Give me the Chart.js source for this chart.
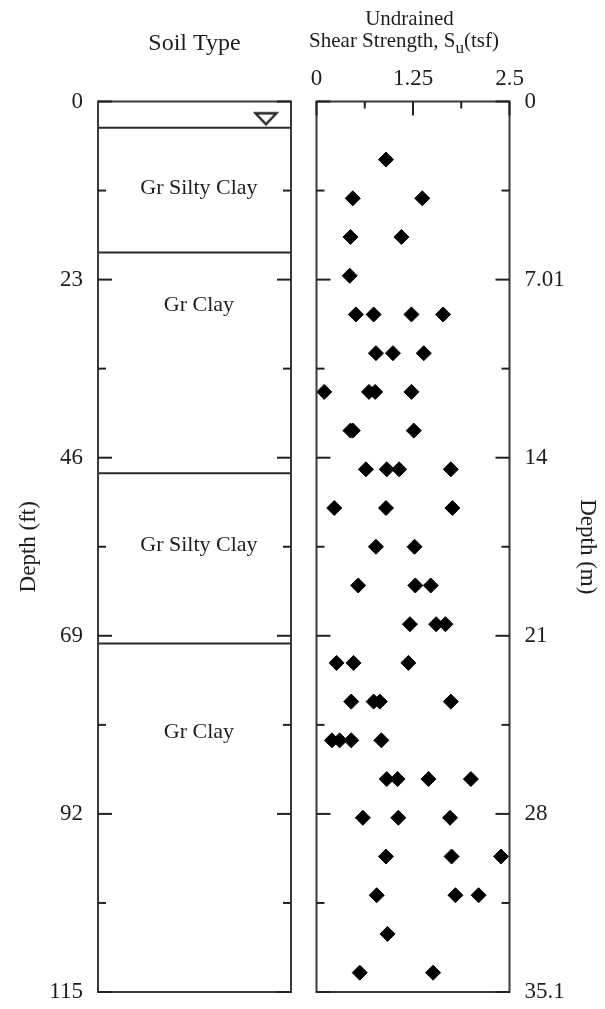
<!DOCTYPE html>
<html><head><meta charset="utf-8">
<script src="https://cdn.jsdelivr.net/npm/chart.js@4.4.1/dist/chart.umd.min.js"></script>
<style>
html,body{margin:0;padding:0;background:#fff;}
#wrap{position:relative;width:605px;height:1009px;background:#fff;}
canvas{position:absolute;left:0;top:0;}
</style></head><body>
<div id="wrap"><canvas id="soil" width="605" height="1009"></canvas><canvas id="su" width="605" height="1009"></canvas></div>
<script>
// ---------- data ----------
const depthFt = [7.5, 12.5,12.5, 17.5,17.5, 22.5, 27.5,27.5,27.5,27.5, 32.5,32.5,32.5, 37.5,37.5,37.5,37.5,
  42.5,42.5,42.5, 47.5,47.5,47.5,47.5, 52.5,52.5,52.5, 57.5,57.5, 62.5,62.5,62.5, 67.5,67.5,67.5,
  72.5,72.5,72.5, 77.5,77.5,77.5,77.5, 82.5,82.5,82.5,82.5, 87.5,87.5,87.5,87.5, 92.5,92.5,92.5,
  97.5,97.5,97.5, 102.5,102.5,102.5, 107.5, 112.5,112.5];
const suTsf = [0.90, 0.47,1.37, 0.44,1.10, 0.43, 0.51,0.74,1.23,1.64, 0.77,0.99,1.39, 0.10,0.68,0.76,1.23,
  0.44,0.47,1.26, 0.64,0.91,1.07,1.74, 0.23,0.90,1.76, 0.77,1.27, 0.54,1.28,1.48, 1.21,1.55,1.67,
  0.26,0.48,1.19, 0.45,0.74,0.82,1.74, 0.20,0.30,0.45,0.84, 0.91,1.05,1.45,2.00, 0.60,1.06,1.73,
  0.90,1.75,2.39, 0.78,1.80,2.10, 0.92, 0.56,1.51];
const ftTicks = [0, 23, 46, 69, 92, 115];
const ftTickLabels = ['0', '23', '46', '69', '92', '115'];
const mTickLabels = ['0', '7.01', '14', '21', '28', '35.1'];
const suTicks = [0, 1.25, 2.5];
const suTickLabels = ['0', '1.25', '2.5'];
const suMinorTicks = [0.625, 1.875];
const layerBoundsFt = [3.4, 19.5, 48, 70];
const layerNames = ['Gr Silty Clay', 'Gr Clay', 'Gr Silty Clay', 'Gr Clay'];
const layerLabelDepthFt = [11.2, 26.3, 57.3, 81.4];
const waterTableFt = 3.0;

// ---------- styles ----------
const FONT = 'Liberation Serif, Times New Roman, serif';
const TXT = '#1e1e1e';
const FRAME = '#3a3a3a';
const TOP = 101.5, BOTTOM_PAD = 17;

const ftMinor = ftTicks.slice(1).map((v, i) => (v + ftTicks[i]) / 2);

// water table marker (hollow downward triangle)
const tri = document.createElement('canvas');
tri.width = 26; tri.height = 28;
(function(){
  const c = tri.getContext('2d');
  c.strokeStyle = '#222'; c.lineWidth = 2.3; c.lineJoin = 'miter';
  c.beginPath(); c.moveTo(2.5, 2.5); c.lineTo(23.5, 2.5); c.lineTo(13, 13.5); c.closePath(); c.stroke();
})();

function noPad(s) { s.paddingTop = 0; s.paddingBottom = 0; s.paddingLeft = 0; s.paddingRight = 0; }

function frameAndTicks(chart, opts) {
  const ctx = chart.ctx, a = chart.chartArea;
  const ys = chart.scales.y;
  ctx.save();
  ctx.strokeStyle = FRAME; ctx.lineWidth = 2;
  ctx.strokeRect(a.left, a.top, a.right - a.left, a.bottom - a.top);
  ctx.strokeStyle = '#222'; ctx.lineWidth = 2;
  const tk = (vals, len) => vals.forEach(v => {
    const p = ys.getPixelForValue(v);
    ctx.beginPath(); ctx.moveTo(a.left, p); ctx.lineTo(a.left + len, p); ctx.stroke();
    ctx.beginPath(); ctx.moveTo(a.right, p); ctx.lineTo(a.right - len, p); ctx.stroke();
  });
  tk(ftTicks, 14); tk(ftMinor, 8);
  if (opts && opts.top) {
    const xs = chart.scales.x;
    const tx = (vals, len) => vals.forEach(v => {
      const p = xs.getPixelForValue(v);
      ctx.beginPath(); ctx.moveTo(p, a.top); ctx.lineTo(p, a.top + len); ctx.stroke();
    });
    tx(suTicks, 14); tx(suMinorTicks, 7);
  }
  ctx.restore();
}

const soilPlugin = {
  id: 'soilDeco',
  afterDatasetsDraw(chart) {
    frameAndTicks(chart);
    const ctx = chart.ctx, a = chart.chartArea;
    const xs = chart.scales.x, ys = chart.scales.y;
    ctx.save();
    ctx.fillStyle = TXT;
    ctx.textAlign = 'center'; ctx.textBaseline = 'middle';
    ctx.font = '22px ' + FONT;
    layerNames.forEach((n, i) => ctx.fillText(n, xs.getPixelForValue(0.523), ys.getPixelForValue(layerLabelDepthFt[i])));
    ctx.textBaseline = 'alphabetic';
    ctx.font = '24px ' + FONT;
    ctx.fillText('Soil Type', (a.left + a.right) / 2, 50);
    ctx.restore();
  }
};

const suPlugin = {
  id: 'suDeco',
  afterDatasetsDraw(chart) {
    frameAndTicks(chart, {top: true});
    const ctx = chart.ctx, a = chart.chartArea;
    ctx.save();
    ctx.fillStyle = TXT;
    ctx.textBaseline = 'alphabetic';
    ctx.font = '21px ' + FONT;
    ctx.textAlign = 'center';
    const cx = (a.left + a.right) / 2;
    ctx.fillText('Undrained', cx - 3.5, 25);
    ctx.textAlign = 'left';
    const p1 = 'Shear Strength, S', p3 = '(tsf)';
    ctx.font = '21px ' + FONT;
    const w1 = ctx.measureText(p1).width;
    ctx.font = '17px ' + FONT;
    const w2 = ctx.measureText('u').width;
    ctx.font = '21px ' + FONT;
    const w3 = ctx.measureText(p3).width;
    let x = cx - 9 - (w1 + w2 + w3) / 2;
    ctx.fillText(p1, x, 47); x += w1;
    ctx.font = '17px ' + FONT; ctx.fillText('u', x, 53); x += w2;
    ctx.font = '21px ' + FONT; ctx.fillText(p3, x, 47);
    ctx.restore();
  }
};

const common = {
  responsive: false, animation: false, devicePixelRatio: 1,
  plugins: {legend: {display: false}, tooltip: {enabled: false}}
};

new Chart(document.getElementById('soil'), {
  type: 'scatter',
  data: {
    datasets: [
      ...layerBoundsFt.map(d => ({
        type: 'line', data: [{x: 0, y: d}, {x: 1, y: d}],
        borderColor: '#2a2a2a', borderWidth: 2, pointRadius: 0, showLine: true
      })),
      {data: [{x: 0.87, y: waterTableFt}], pointStyle: tri, pointRadius: 13}
    ]
  },
  options: Object.assign({}, common, {
    layout: {padding: {left: 0, top: TOP, right: 314, bottom: BOTTOM_PAD}},
    scales: {
      x: {type: 'linear', min: 0, max: 1, display: false},
      y: {
        type: 'linear', min: 0, max: 115, reverse: true, position: 'left',
        afterFit(s) { s.width = 98; noPad(s); },
        afterBuildTicks(s) { s.ticks = ftTicks.map(v => ({value: v})); },
        ticks: {padding: 15, font: {family: FONT, size: 23}, color: TXT, callback: (v, i) => ftTickLabels[i]},
        grid: {display: false, drawTicks: false}, border: {display: false},
        title: {display: true, text: 'Depth (ft)', color: TXT, font: {family: FONT, size: 23}, padding: {top: 15, bottom: 0}}
      }
    }
  }),
  plugins: [soilPlugin]
});

new Chart(document.getElementById('su'), {
  type: 'scatter',
  data: {
    datasets: [{
      data: depthFt.map((d, i) => ({x: suTsf[i], y: d})),
      pointStyle: 'rectRot', pointRadius: 7.5, backgroundColor: '#000', borderColor: '#000', borderWidth: 1
    }]
  },
  options: Object.assign({}, common, {
    layout: {padding: {left: 316.5, top: 0, right: 0, bottom: BOTTOM_PAD}},
    scales: {
      x: {
        type: 'linear', position: 'top', min: 0, max: 2.5,
        afterFit(s) { s.height = TOP; noPad(s); },
        afterBuildTicks(s) { s.ticks = suTicks.map(v => ({value: v})); },
        ticks: {padding: 9, maxRotation: 0, autoSkip: false, font: {family: FONT, size: 23}, color: TXT, callback: (v, i) => suTickLabels[i]},
        grid: {display: false, drawTicks: false}, border: {display: false}
      },
      y: {type: 'linear', min: 0, max: 115, reverse: true, display: false},
      y2: {
        type: 'linear', position: 'right', min: 0, max: 115, reverse: true,
        afterFit(s) { s.width = 95.5; noPad(s); },
        afterBuildTicks(s) { s.ticks = ftTicks.map(v => ({value: v})); },
        ticks: {padding: 15, font: {family: FONT, size: 23}, color: TXT, callback: (v, i) => mTickLabels[i]},
        grid: {display: false, drawTicks: false}, border: {display: false},
        title: {display: true, text: 'Depth (m)', color: TXT, font: {family: FONT, size: 23}, padding: {top: 4, bottom: 0}}
      }
    }
  }),
  plugins: [suPlugin]
});
</script>
</body></html>
